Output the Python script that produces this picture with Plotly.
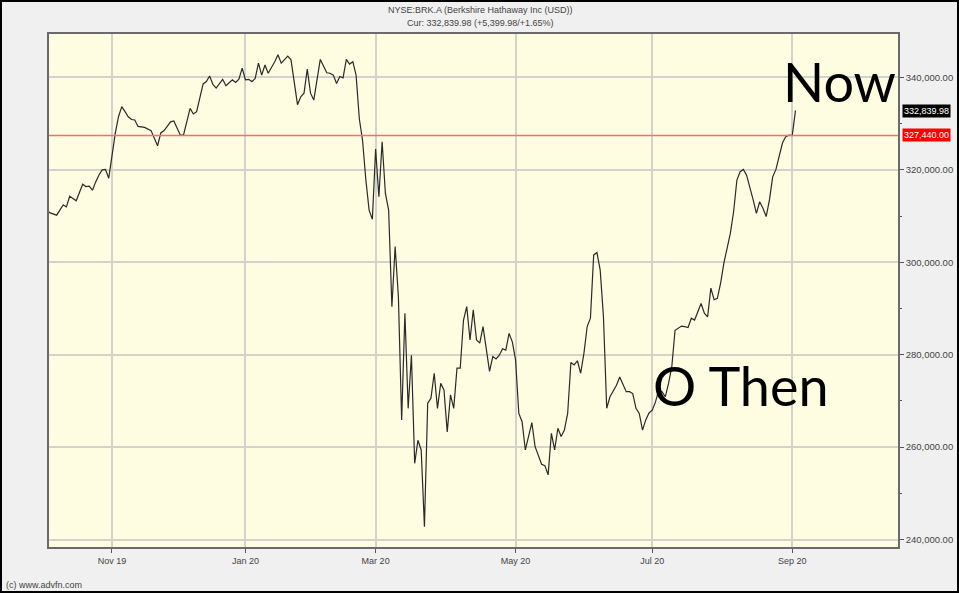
import plotly.graph_objects as go

# ---------------- data ----------------
title_line1 = "NYSE:BRK.A (Berkshire Hathaway Inc (USD))"
title_line2 = "Cur: 332,839.98 (+5,399.98/+1.65%)"
credit = "(c) www.advfn.com"

dates = [
    "2019-10-04", "2019-10-07", "2019-10-09", "2019-10-11", "2019-10-14", "2019-10-15", "2019-10-16",
    "2019-10-17", "2019-10-21", "2019-10-22", "2019-10-23", "2019-10-24", "2019-10-25", "2019-10-28",
    "2019-10-29", "2019-10-30", "2019-10-31",
    "2019-11-01", "2019-11-04", "2019-11-05", "2019-11-06", "2019-11-07", "2019-11-08", "2019-11-11",
    "2019-11-12", "2019-11-13", "2019-11-15", "2019-11-19", "2019-11-21", "2019-11-22", "2019-11-25",
    "2019-11-27", "2019-11-29",
    "2019-12-03", "2019-12-04", "2019-12-06", "2019-12-09", "2019-12-10", "2019-12-12", "2019-12-13",
    "2019-12-16", "2019-12-17", "2019-12-18", "2019-12-20", "2019-12-23", "2019-12-26", "2019-12-27",
    "2019-12-30", "2019-12-31",
    "2020-01-02", "2020-01-03", "2020-01-06", "2020-01-07", "2020-01-08", "2020-01-09", "2020-01-10",
    "2020-01-13", "2020-01-15", "2020-01-16", "2020-01-17", "2020-01-22", "2020-01-23", "2020-01-24",
    "2020-01-27", "2020-01-28", "2020-01-29", "2020-01-30", "2020-01-31",
    "2020-02-03", "2020-02-04", "2020-02-05", "2020-02-07", "2020-02-10", "2020-02-11", "2020-02-12",
    "2020-02-13", "2020-02-14", "2020-02-18", "2020-02-19", "2020-02-20", "2020-02-21", "2020-02-24",
    "2020-02-25", "2020-02-26", "2020-02-27", "2020-02-28",
    "2020-03-02", "2020-03-03", "2020-03-04", "2020-03-05", "2020-03-06", "2020-03-09", "2020-03-10",
    "2020-03-11", "2020-03-12", "2020-03-13", "2020-03-16", "2020-03-17", "2020-03-18", "2020-03-19",
    "2020-03-20", "2020-03-23", "2020-03-24", "2020-03-25", "2020-03-26", "2020-03-27", "2020-03-30",
    "2020-03-31",
    "2020-04-01", "2020-04-02", "2020-04-03", "2020-04-06", "2020-04-07", "2020-04-08", "2020-04-09",
    "2020-04-13", "2020-04-14", "2020-04-15", "2020-04-16", "2020-04-17", "2020-04-20", "2020-04-21",
    "2020-04-22", "2020-04-23", "2020-04-24", "2020-04-27", "2020-04-28", "2020-04-29", "2020-04-30",
    "2020-05-01", "2020-05-04", "2020-05-05", "2020-05-06", "2020-05-07", "2020-05-08", "2020-05-11",
    "2020-05-13", "2020-05-14", "2020-05-15", "2020-05-18", "2020-05-19", "2020-05-20", "2020-05-21",
    "2020-05-22", "2020-05-26", "2020-05-27", "2020-05-28", "2020-05-29",
    "2020-06-01", "2020-06-02", "2020-06-03", "2020-06-04", "2020-06-05", "2020-06-08", "2020-06-09",
    "2020-06-10", "2020-06-11", "2020-06-12", "2020-06-15", "2020-06-16", "2020-06-17", "2020-06-18",
    "2020-06-19", "2020-06-22", "2020-06-23", "2020-06-24", "2020-06-25", "2020-06-26", "2020-06-29",
    "2020-06-30",
    "2020-07-01", "2020-07-02", "2020-07-06", "2020-07-07", "2020-07-08", "2020-07-09", "2020-07-10",
    "2020-07-13", "2020-07-14", "2020-07-15", "2020-07-16", "2020-07-17", "2020-07-20", "2020-07-21",
    "2020-07-22", "2020-07-23", "2020-07-24", "2020-07-27", "2020-07-28", "2020-07-29", "2020-07-30",
    "2020-07-31",
    "2020-08-03", "2020-08-04", "2020-08-05", "2020-08-06", "2020-08-07", "2020-08-10", "2020-08-11",
    "2020-08-12", "2020-08-13", "2020-08-14", "2020-08-17", "2020-08-18", "2020-08-19", "2020-08-20",
    "2020-08-21", "2020-08-24", "2020-08-25", "2020-08-26", "2020-08-27", "2020-08-28", "2020-08-31",
    "2020-09-01", "2020-09-02",
]

prices = [
    311200, 310700, 310200, 312400, 312000, 314300, 313800,
    313300, 316900, 316400, 316500, 315600, 317400, 318900,
    320000, 320100, 318200,
    323600, 327900, 331500, 333700, 332600, 331500, 330900,
    330800, 329400, 329200, 328500, 325200, 328000, 328500,
    330400, 330600,
    327500, 327600, 333300, 332100, 332600, 338600, 339100,
    340300, 338500, 337700, 339600, 338200, 339500, 338900,
    339600, 342000,
    339500, 339600, 339100, 339800, 343100, 340500, 342700,
    340900, 343400, 344900, 343100, 344600, 343800, 338700,
    334100, 335800, 336600, 341800, 336600,
    335100, 339500, 343900, 341000, 340900, 340500, 338700,
    340200, 339900, 343900, 342900, 343400, 340500, 331000,
    326300, 317800, 311300, 309300,
    324500, 314200, 326100, 314900, 311300, 290400, 303400,
    292500, 265900, 289000, 268400, 279900, 256500, 261500,
    259400, 242800, 269500, 270600, 276000, 268400, 273800,
    272400,
    263300, 271300, 268400, 277100, 277100, 287500, 290400,
    283200, 289700, 283200, 282500, 286100, 281700, 276400,
    279600, 279100, 279900, 281300, 281000, 284600, 282800,
    278900, 267300, 265500, 259400, 262300, 265300, 260100,
    256300, 256000, 254000, 263000, 259400, 264100, 262300,
    263700, 267300, 278300, 277800, 278700,
    276000, 280300, 286100, 287900, 301600, 302100, 298300,
    288200, 268400, 270900, 272000, 273400, 275200, 273400,
    272000, 272000, 271600, 268400, 267300, 263700, 265900,
    267400,
    268000, 269800, 272400, 272000, 270900, 273800, 277400,
    285300, 285800, 286200, 286100, 285900, 287900, 287500,
    289300, 291100, 289000, 288200, 294400, 291900, 292200,
    295500,
    299800, 303400, 306300, 311000, 317800, 319600, 320100,
    318800, 316400, 313500, 310600, 313100, 311700, 309900,
    313500, 318500, 320100, 322900, 325800, 327200, 327500,
    327440, 332840,
]

current_price = 332839.98
prev_close = 327440.00

holidays = ["2019-11-28", "2019-12-25", "2020-01-01", "2020-01-20", "2020-02-17",
            "2020-04-10", "2020-05-25", "2020-07-03", "2020-09-07"]
tick_dates = ["2019-11-01", "2020-01-02", "2020-03-02", "2020-05-01", "2020-07-01", "2020-09-01"]
tick_labels = ["Nov 19", "Jan 20", "Mar 20", "May 20", "Jul 20", "Sep 20"]
y_ticks = [240000, 260000, 280000, 300000, 320000, 340000]
x_range = ["2019-10-04 15:30", "2020-10-16 12:00"]
y_range = [238400, 349400]

# ---------------- figure ----------------
W, H = 959, 593
ML, MR, MT, MB = 49, 61, 34, 46
PW, PH = W - ML - MR, H - MT - MB


def px(x):
    return (x - ML) / PW


def py(y):
    return (H - MB - y) / PH


small_font = dict(family="Liberation Sans, Arial, sans-serif", size=9, color="#444444")
ylab_font = dict(family="Liberation Sans, Arial, sans-serif", size=9.5, color="#444444")
box_font = dict(family="Liberation Sans, Arial, sans-serif", size=9, color="#ffffff")
big_font = dict(family="Lato, Carlito, Calibri, sans-serif", size=54, color="#000000")

fig = go.Figure()
fig.add_trace(go.Scatter(
    x=dates, y=prices, mode="lines",
    line=dict(color="#2a2a2a", width=1.2),
    hoverinfo="skip", showlegend=False,
))

axis_common = dict(
    showgrid=True, gridcolor="#d3d3cb", gridwidth=1.5,
    showline=True, linecolor="#6a6a6a", linewidth=1.5, mirror=True,
    ticks="outside", ticklen=4, tickcolor="#555555", tickwidth=1,
    zeroline=False, automargin=False,
)

fig.update_xaxes(
    type="date", range=x_range,
    rangebreaks=[dict(bounds=["sat", "mon"]), dict(values=holidays)],
    tickmode="array", tickvals=tick_dates, ticktext=tick_labels,
    tickfont=small_font,
    **axis_common,
)
fig.update_yaxes(
    side="right", range=y_range,
    tickmode="array", tickvals=y_ticks, tickformat=",.2f",
    tickfont=ylab_font,
    minor=dict(tickmode="linear", tick0=0, dtick=10000, ticks="outside",
               ticklen=2, tickcolor="#555555", showgrid=False),
    **axis_common,
)

annotations = [
    dict(text=title_line1, xref="paper", yref="paper", x=px(480), y=py(10),
         xanchor="center", yanchor="middle", showarrow=False, font=small_font),
    dict(text=title_line2, xref="paper", yref="paper", x=px(480), y=py(23),
         xanchor="center", yanchor="middle", showarrow=False, font=small_font),
    dict(text=credit, xref="paper", yref="paper", x=px(4), y=py(585),
         xanchor="left", yanchor="middle", showarrow=False, font=small_font),
    dict(text=f"{current_price:,.2f}", xref="paper", yref="y", x=px(902), y=current_price,
         xanchor="left", yanchor="middle", showarrow=False, bgcolor="#000000",
         borderpad=1, font=box_font),
    dict(text=f"{prev_close:,.2f}", xref="paper", yref="y", x=px(902), y=prev_close,
         xanchor="left", yanchor="middle", showarrow=False, bgcolor="#ff0000",
         borderpad=1, font=box_font),
    dict(text="Now", xref="paper", yref="paper", x=px(781), y=py(81),
         xanchor="left", yanchor="middle", showarrow=False, font=big_font),
    dict(text="O Then", xref="paper", yref="paper", x=px(651), y=py(385),
         xanchor="left", yanchor="middle", showarrow=False, font=big_font),
]

fig.update_layout(
    width=W, height=H,
    margin=dict(l=ML, r=MR, t=MT, b=MB),
    paper_bgcolor="#f0f0f0", plot_bgcolor="#fefde1",
    annotations=annotations,
)

# previous close reference line
fig.add_shape(type="line", xref="paper", yref="y", x0=0, x1=1, y0=prev_close, y1=prev_close,
              line=dict(color="#ff6a6a", width=1.6), layer="above")
# outer frame of the picture
fig.add_shape(type="rect", xref="paper", yref="paper",
              x0=px(1), x1=px(958), y0=py(592), y1=py(1),
              line=dict(color="#000000", width=2), fillcolor="rgba(0,0,0,0)", layer="above")

fig.write_html("out.html", config={"displayModeBar": False},
               post_script="document.body.style.margin='0px';document.body.style.overflow='hidden';")
